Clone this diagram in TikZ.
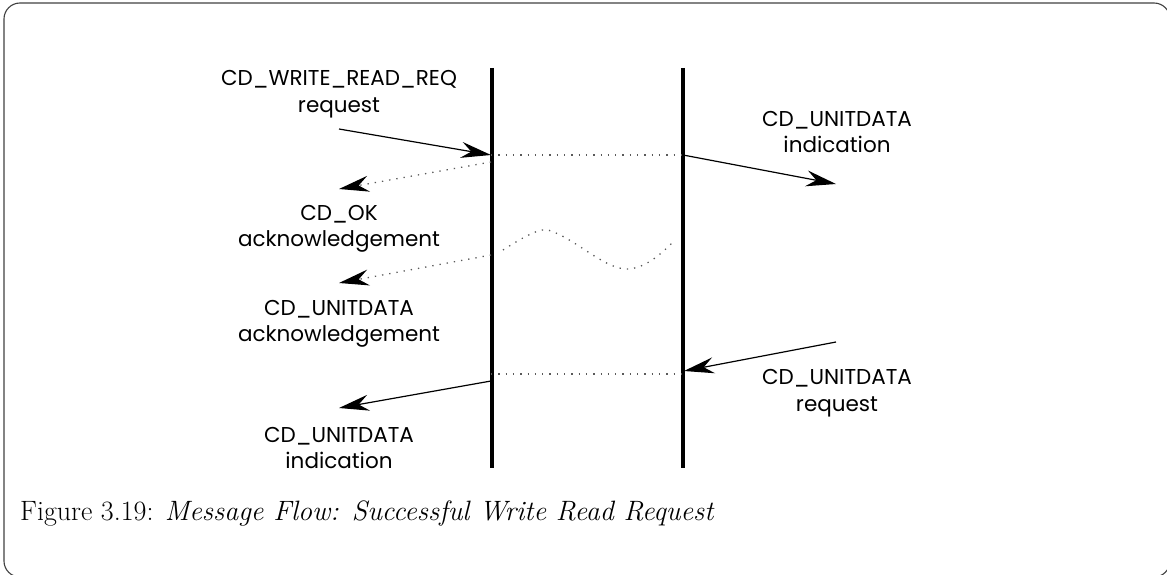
\documentclass[tikz,border=0pt]{standalone}
\usepackage{fontspec}
\newfontfamily\gothic{Poppins}
\usetikzlibrary{arrows.meta}
\begin{document}
\begin{tikzpicture}[x=1pt,y=-1pt,
  lbl/.style={font=\gothic\fontsize{21.5}{26.5}\selectfont, align=center, inner sep=0pt},
  life/.style={line width=3.8pt},
  msgtip/.style={-{Stealth[length=30pt,width=16pt,inset=10pt,color=black]}},
  msg/.style={msgtip, line width=1.2pt},
  dots/.style={line width=1.3pt, dash pattern=on 1.3pt off 6pt, black!65},
  dmsg/.style={dots, msgtip},
  captext/.style={font=\fontsize{28}{34}\selectfont, anchor=west, inner sep=0pt}]
\useasboundingbox (0,0) rectangle (1167,575);
% outer frame
\draw[line width=1.1pt, black!75, rounded corners=16pt] (4,3) rectangle (1170,577);

% lifelines
\coordinate (Lt) at (492,68);  \coordinate (Lb) at (492,468);
\coordinate (Rt) at (683,68);  \coordinate (Rb) at (683,468);
\draw[life] (Lt) -- (Lb);
\draw[life] (Rt) -- (Rb);

% message end points
\coordinate (a1) at (339,129);  \coordinate (a2) at (491,155);
\coordinate (b1) at (683,155);  \coordinate (b2) at (836,184);
\coordinate (c1) at (491,162);  \coordinate (c2) at (339,189);
\coordinate (d1) at (491,255);  \coordinate (d2) at (339,283);
\coordinate (e1) at (836,342);  \coordinate (e2) at (684,371);
\coordinate (f1) at (491,381);  \coordinate (f2) at (339,408);
\coordinate (w1) at (503,250);  \coordinate (w2) at (672,243);
\coordinate (h1) at (683,374);

% labels
\node[lbl] (req)   at (339,94)  {CD\_WRITE\_READ\_REQ\\request};
\node[lbl] (ind1)  at (837,132) {CD\_UNITDATA\\indication};
\node[lbl] (ok)    at (339,229) {CD\_OK\\acknowledgement};
\node[lbl] (ack)   at (339,324) {CD\_UNITDATA\\acknowledgement};
\node[lbl] (req2)  at (837,393) {CD\_UNITDATA\\request};
\node[lbl] (ind2)  at (339,448) {CD\_UNITDATA\\indication};

% messages
\draw[msg] (a1) -- (a2);
\draw[dots] (a2) -- (b1);
\draw[msg] (b1) -- (b2);
\draw[dmsg] (c1) -- (c2);
\draw[dots] (w1) .. controls (525,236) and (540,228) .. (548,230)
              .. controls (575,238) and (605,270) .. (628,269)
              .. controls (645,268) and (660,255) .. (w2);
\draw[dmsg] (d1) -- (d2);
\draw[msg] (e1) -- (e2);
\draw[dots] (f1 |- h1) -- (h1);
\draw[msg] (f1) -- (f2);

% caption
\node[captext] (caption) at (20,513) {Figure 3.19: \textit{Message Flow: Successful Write Read Request}};
\end{tikzpicture}
\end{document}
